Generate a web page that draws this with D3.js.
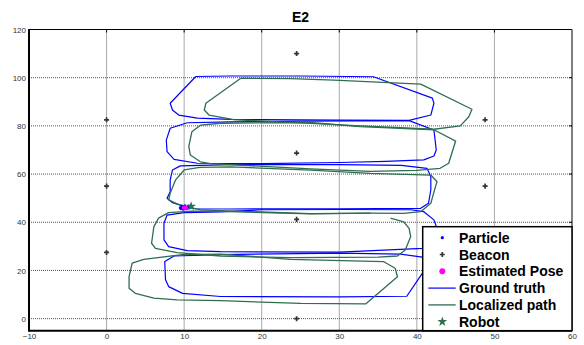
<!DOCTYPE html>
<html>
<head>
<meta charset="utf-8">
<script src="https://cdn.jsdelivr.net/npm/d3@7"></script>
<style>
  body { margin: 0; background: #fff; }
  svg { display: block; font-family: "Liberation Sans", Arial, sans-serif; }
</style>
</head>
<body>
<div id="chart"></div>
<script>
// ticks
const xTicks = [-10, 0, 10, 20, 30, 40, 50, 60];
const yTicks = [0, 20, 40, 60, 80, 100, 120];

// beacon positions
const beacons = [[0, 82.5], [0, 55], [0, 27.5], [24.5, 110], [24.5, 68.7], [24.5, 41.2], [24.5, 0], [48.8, 82.5], [48.8, 55]];

// ground truth, one array per lap
const groundTruth = [
  [[11.5, 100.5], [16, 100.7], [25, 100.7], [34.4, 100.4], [42.0, 91.5], [42.2, 89.4], [41.8, 84.5], [39.0, 82.3], [30, 82.4], [20, 82.6], [16, 82.7], [11.7, 83.2], [9.3, 84.5], [8.5, 86.6], [8.2, 89.4], [11.5, 100.5]],
  [[39.0, 82.2], [42.2, 78.3], [42.4, 72.8], [42.5, 70.0], [42.2, 67.5], [40.9, 65.9], [36, 65.3], [30, 64.8], [20, 64.3], [11.7, 64.5], [8.7, 66.1], [7.8, 69.3], [7.7, 74.1], [8.2, 79.0], [10.4, 81.3], [16, 81.7], [25, 82.0], [39.0, 82.2]],
  [[9.5, 63.4], [16, 63.9], [30, 63.9], [38, 63.6], [41.3, 62.4], [41.8, 59.0], [41.8, 53.4], [41.5, 47.9], [40.5, 45.8], [30, 45.6], [16, 45.5], [11.5, 45.6], [9.8, 46.8], [8.5, 48.1], [7.8, 50.0], [8.2, 52.7], [8.2, 57.6], [8.5, 61.7], [9.5, 63.4]],
  [[39.2, 45.2], [40.9, 44.4], [42.2, 41.0], [42.6, 37.5], [42.6, 33.0], [42.0, 30.5], [40.7, 29.2], [30, 27.6], [14.7, 27.8], [10.4, 28.2], [8.0, 29.9], [7.4, 32.7], [7.4, 39.6], [7.8, 43.0], [10, 44.0], [14.7, 44.3], [20, 45.2], [30, 45.3], [39.2, 45.2]],
  [[8.7, 26.0], [7.5, 23.7], [7.6, 16.1], [8.0, 13.3], [9.8, 10.5], [14.7, 9.2], [30, 9.0], [38.7, 9.3], [40.7, 18.8], [41.8, 22.5], [40.7, 25.5], [37.9, 26.8], [30, 27.2], [14.7, 26.6], [8.7, 26.0]]
];

// localized path, one array per lap
const localized = [
  [[17.3, 99.8], [23.7, 99.6], [29.3, 99.0], [40.5, 97.3], [47.1, 86.9], [46.7, 83.8], [45.6, 80.0], [42.2, 78.6], [32.7, 80.0], [26.3, 81.0], [16.4, 82.6], [13.2, 84.5], [12.6, 86.6], [12.8, 89.4], [17.3, 99.8]],
  [[42.2, 78.4], [32.7, 79.7], [26.3, 81.4], [14.7, 81.1], [12.1, 80.3], [11.0, 77.6], [10.6, 71.4], [10.8, 67.9], [12.1, 65.1], [13.4, 64.3], [26.3, 62.2], [34, 61.1], [40, 61.5], [43.0, 62.4], [44.1, 64.5], [45.0, 73.7], [42.2, 78.4]],
  [[10.5, 46.3], [12, 45.2], [14.7, 44.8], [26.3, 43.6], [34, 43.8], [38.3, 43.7], [40.5, 44.4], [41.8, 47.9], [42.4, 54.8], [42.6, 56.8], [41.8, 59.6], [34, 60.3], [26.3, 61.6], [16, 63.0], [12, 62.8], [10, 61.7], [8.9, 57.6], [8.2, 52.0], [8.0, 49.3], [9.1, 47.6], [10.5, 46.3]],
  [[36.6, 41.7], [38.3, 40.2], [39.0, 37.5], [39.2, 34.0], [38.5, 28.5], [37.5, 26.0], [35, 25.5], [23.7, 25.3], [14.7, 26.0], [9.1, 27.4], [6.3, 29.2], [5.8, 31.3], [6.1, 38.2], [6.7, 41.7], [8.0, 44.0], [11, 44.6], [14.7, 44.5], [26.3, 43.5], [34, 43.8]],
  [[9.8, 26.6], [4.8, 24.6], [3.3, 23.0], [2.9, 17.4], [2.9, 12.6], [3.7, 10.5], [6.1, 8.5], [9.1, 7.8], [14.7, 7.5], [25, 6.3], [33.4, 6.1], [37.5, 17.4], [37.2, 20.9], [35.7, 23.7], [23.7, 24.6], [14.7, 26.8], [9.8, 26.6]]
];

const particles = [[9.5, 46.0], [9.7, 46.6], [9.9, 45.4], [10.1, 46.9], [10.3, 45.6], [10.5, 46.4], [10.7, 46.0], [9.6, 45.6], [10.2, 46.2], [10.6, 46.8]];
const estimatedPose = [10.1, 46.0];
const robot = [10.9, 46.6];

const legendLabels = ["Particle", "Beacon", "Estimated Pose", "Ground truth", "Localized path", "Robot"];

const BLUE = "#0000ff";
const GREEN = "#2f6e4e";
const MAGENTA = "#ff00ff";

const W = 584, H = 345;
const svg = d3.select("#chart").append("svg").attr("width", W).attr("height", H);
svg.append("rect").attr("width", W).attr("height", H).attr("fill", "#fff");

const x = d3.scaleLinear().domain([-10, 60]).range([29, 572]);
const y = d3.scaleLinear().domain([-5, 120]).range([330.7, 29.5]);
const [x0, x1] = x.range();
const [y0, y1] = y.range();

// grid
const grid = svg.append("g").attr("stroke", "#555").attr("stroke-dasharray", "1,1").attr("stroke-width", 1);
grid.selectAll(".gx").data(xTicks.slice(1, -1)).join("line")
  .attr("x1", d => x(d)).attr("x2", d => x(d)).attr("y1", y1).attr("y2", y0);
grid.selectAll(".gy").data(yTicks.slice(0, -1)).join("line")
  .attr("y1", d => y(d)).attr("y2", d => y(d)).attr("x1", x0).attr("x2", x1);

// tick labels
const xAxis = svg.append("g").attr("transform", `translate(0,${y0})`)
  .call(d3.axisBottom(x).tickValues(xTicks).tickSize(0).tickPadding(3));
const yAxis = svg.append("g").attr("transform", `translate(${x0},0)`)
  .call(d3.axisLeft(y).tickValues(yTicks).tickSize(0).tickPadding(3));
[xAxis, yAxis].forEach(a => {
  a.select(".domain").remove();
  a.selectAll("text").attr("font-size", 8).attr("fill", "#333").attr("font-family", "Liberation Sans, Arial, sans-serif");
});

// small ticks on top and right
svg.append("g").selectAll("line").data(xTicks.slice(1, -1)).join("line")
  .attr("x1", d => x(d)).attr("x2", d => x(d)).attr("y1", y1).attr("y2", y1 + 3).attr("stroke", "#000");
svg.append("g").selectAll("line").data(yTicks.slice(0, -1)).join("line")
  .attr("y1", d => y(d)).attr("y2", d => y(d)).attr("x1", x1).attr("x2", x1 - 3).attr("stroke", "#000");

// paths
const line = d3.line().x(d => x(d[0])).y(d => y(d[1]));
const plot = svg.append("g");
plot.selectAll(".gt").data(groundTruth).join("path")
  .attr("d", line).attr("fill", "none").attr("stroke", BLUE).attr("stroke-width", 1.2).attr("stroke-linejoin", "round");
plot.selectAll(".lp").data(localized).join("path")
  .attr("d", line).attr("fill", "none").attr("stroke", GREEN).attr("stroke-width", 1.3).attr("stroke-linejoin", "round");

// beacons
plot.selectAll(".bc").data(beacons).join("path")
  .attr("d", d3.symbol(d3.symbolCross, 14))
  .attr("transform", d => `translate(${x(d[0])},${y(d[1])})`)
  .attr("fill", "#333");

// particles, pose, robot
plot.selectAll(".pt").data(particles).join("circle")
  .attr("cx", d => x(d[0])).attr("cy", d => y(d[1])).attr("r", 1.5).attr("fill", BLUE);
plot.append("ellipse").attr("cx", x(estimatedPose[0])).attr("cy", y(estimatedPose[1]))
  .attr("rx", 3).attr("ry", 2.2).attr("fill", MAGENTA);
plot.append("path").attr("d", d3.symbol(d3.symbolStar, 30))
  .attr("transform", `translate(${x(robot[0])},${y(robot[1])})`).attr("fill", GREEN);

// frame
svg.append("line").attr("x1", x0).attr("x2", x1).attr("y1", y1).attr("y2", y1).attr("stroke", "#000").attr("stroke-width", 1);
svg.append("line").attr("x1", x1).attr("x2", x1).attr("y1", y1).attr("y2", y0).attr("stroke", "#000").attr("stroke-width", 1);
svg.append("line").attr("x1", x0).attr("x2", x1).attr("y1", y0).attr("y2", y0).attr("stroke", "#000").attr("stroke-width", 2);
svg.append("line").attr("x1", x0).attr("x2", x0).attr("y1", y1 - 0.5).attr("y2", y0 + 1).attr("stroke", "#000").attr("stroke-width", 2);

// title
svg.append("text").attr("x", (x0 + x1) / 2).attr("y", 22).attr("text-anchor", "middle")
  .attr("font-size", 14).attr("font-weight", "bold").text("E2");

// legend
const lg = svg.append("g");
const lgX = 422.7, lgY = 226.7, lgW = x1 - lgX, lgH = y0 - lgY;
lg.append("rect").attr("x", lgX).attr("y", lgY).attr("width", lgW).attr("height", lgH)
  .attr("fill", "#fff").attr("stroke", "#000").attr("stroke-width", 1.5);
const rowY = i => lgY + 11 + i * 16.8;
const mx = 442.3;
legendLabels.forEach((lab, i) => {
  lg.append("text").attr("x", 459).attr("y", rowY(i) + 5).attr("font-size", 14)
    .attr("font-weight", "bold").text(lab);
});
lg.append("circle").attr("cx", mx).attr("cy", rowY(0)).attr("r", 1.6).attr("fill", BLUE);
lg.append("path").attr("d", d3.symbol(d3.symbolCross, 14)).attr("transform", `translate(${mx},${rowY(1)})`).attr("fill", "#333");
lg.append("circle").attr("cx", mx).attr("cy", rowY(2)).attr("r", 3).attr("fill", MAGENTA);
lg.append("line").attr("x1", 428.3).attr("x2", 455.7).attr("y1", rowY(3)).attr("y2", rowY(3)).attr("stroke", BLUE).attr("stroke-width", 1.2);
lg.append("line").attr("x1", 428.3).attr("x2", 455.7).attr("y1", rowY(4)).attr("y2", rowY(4)).attr("stroke", GREEN).attr("stroke-width", 1.3);
lg.append("path").attr("d", d3.symbol(d3.symbolStar, 30)).attr("transform", `translate(${mx},${rowY(5)})`).attr("fill", GREEN);
</script>
</body>
</html>
